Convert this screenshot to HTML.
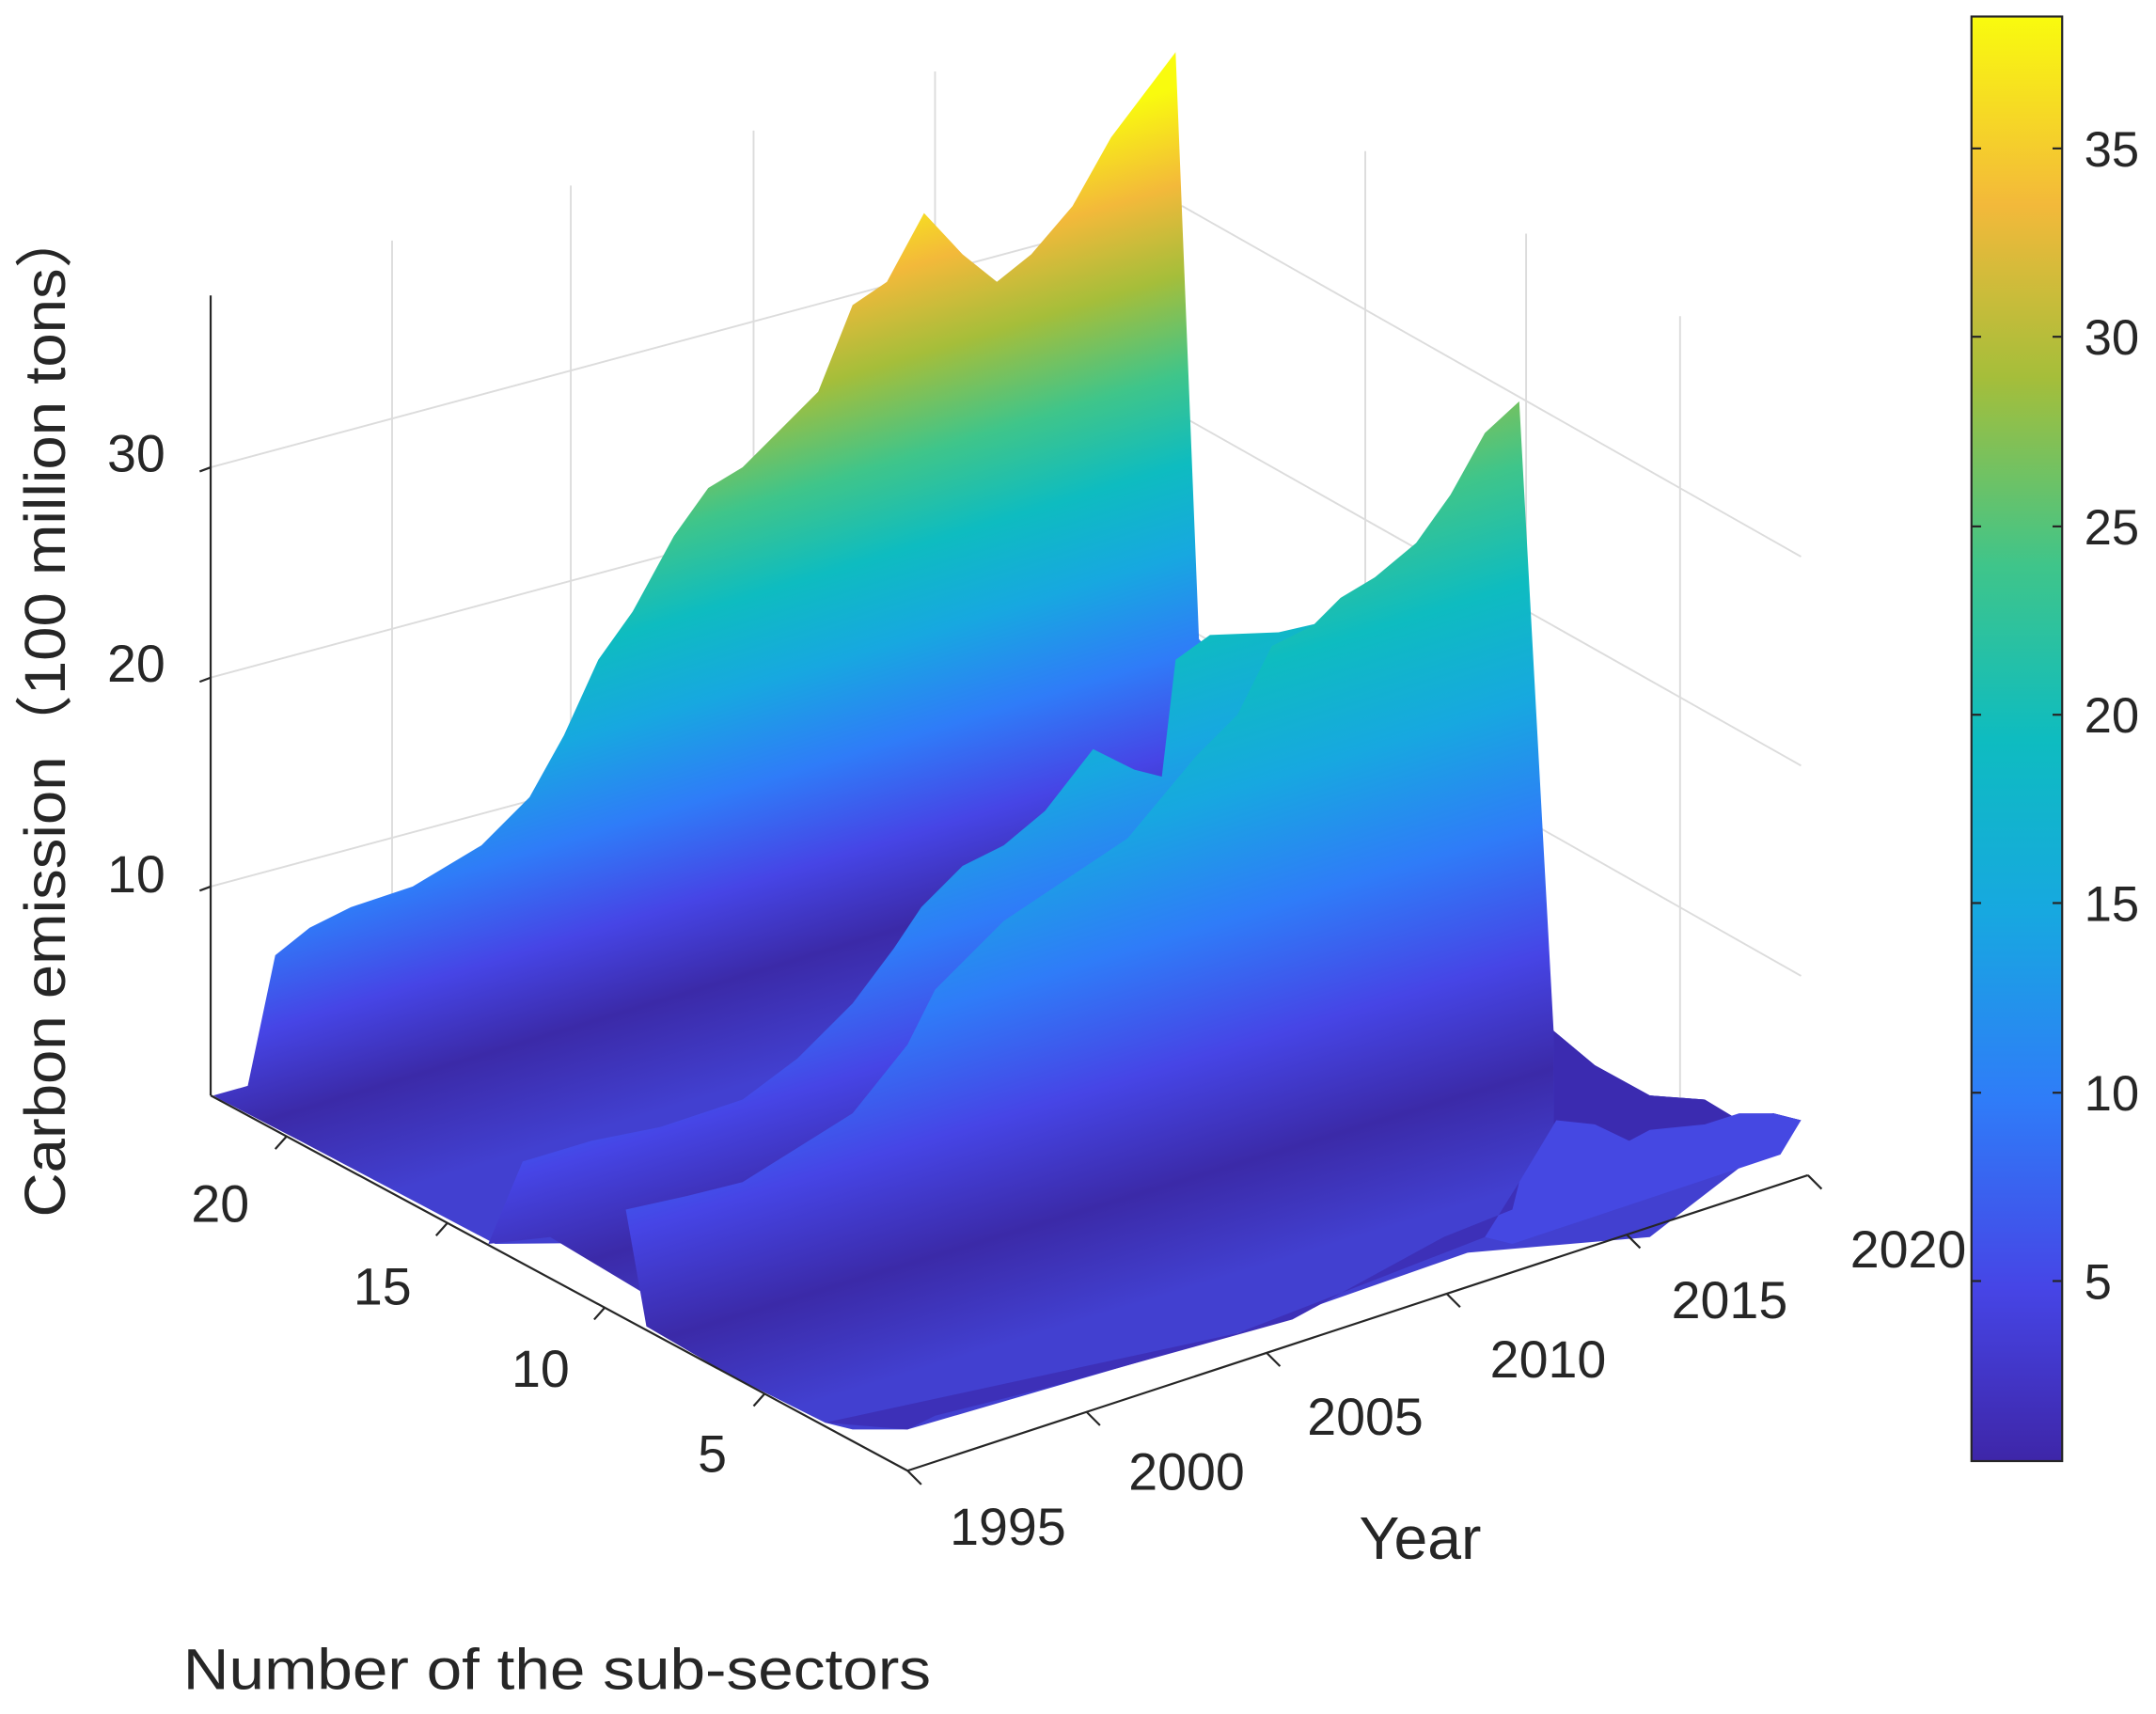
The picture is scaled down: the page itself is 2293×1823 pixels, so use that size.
<!DOCTYPE html>
<html><head><meta charset="utf-8"><style>
html,body{margin:0;padding:0;background:#fff;}
svg{display:block;}
text{font-family:"Liberation Sans","Noto Sans CJK SC",sans-serif;fill:#262626;}
</style></head><body>
<svg width="2293" height="1823" viewBox="0 0 1568 1247" xmlns="http://www.w3.org/2000/svg">
<defs>
<linearGradient id="cb" x1="0" y1="1" x2="0" y2="0">
<stop offset="0" stop-color="#3e26a8"/><stop offset="0.12" stop-color="#4645e6"/><stop offset="0.25" stop-color="#2f7cf8"/><stop offset="0.38" stop-color="#17a8e0"/><stop offset="0.5" stop-color="#0ebcc0"/><stop offset="0.62" stop-color="#3fc58a"/><stop offset="0.75" stop-color="#a5be3a"/><stop offset="0.87" stop-color="#f3b93a"/><stop offset="1" stop-color="#f9fb0e"/>
</linearGradient>
<linearGradient id="g1" gradientUnits="userSpaceOnUse" x1="0" y1="954" x2="0" y2="323" gradientTransform="skewY(-16.87)">
<stop offset="0" stop-color="#4240d0"/><stop offset="0.127" stop-color="#3b2aa8"/><stop offset="0.232" stop-color="#4645e6"/><stop offset="0.345" stop-color="#2f7cf8"/><stop offset="0.459" stop-color="#17a8e0"/><stop offset="0.563" stop-color="#0ebcc0"/><stop offset="0.668" stop-color="#3fc58a"/><stop offset="0.782" stop-color="#a5be3a"/><stop offset="0.887" stop-color="#f3b93a"/><stop offset="1" stop-color="#f9fb0e"/>
</linearGradient>
<linearGradient id="g2" gradientUnits="userSpaceOnUse" x1="0" y1="1127" x2="0" y2="401" gradientTransform="skewY(-16.87)">
<stop offset="0" stop-color="#4240d0"/><stop offset="0.11" stop-color="#3b2aa8"/><stop offset="0.217" stop-color="#4645e6"/><stop offset="0.332" stop-color="#2f7cf8"/><stop offset="0.448" stop-color="#17a8e0"/><stop offset="0.555" stop-color="#0ebcc0"/><stop offset="0.662" stop-color="#3fc58a"/><stop offset="0.778" stop-color="#a5be3a"/><stop offset="0.884" stop-color="#f3b93a"/><stop offset="1" stop-color="#f9fb0e"/>
</linearGradient>
<linearGradient id="g3" gradientUnits="userSpaceOnUse" x1="0" y1="1200" x2="0" y2="400" gradientTransform="skewY(-16.87)">
<stop offset="0" stop-color="#4240d0"/><stop offset="0.1" stop-color="#3b2aa8"/><stop offset="0.208" stop-color="#4645e6"/><stop offset="0.325" stop-color="#2f7cf8"/><stop offset="0.442" stop-color="#17a8e0"/><stop offset="0.55" stop-color="#0ebcc0"/><stop offset="0.658" stop-color="#3fc58a"/><stop offset="0.775" stop-color="#a5be3a"/><stop offset="0.883" stop-color="#f3b93a"/><stop offset="1" stop-color="#f9fb0e"/>
</linearGradient>
</defs>
<g stroke="#dcdcdc" stroke-width="1.3" fill="none">
<polyline points="153,340 860,150 1310,405"/>
<polyline points="153,493 860,303 1310,557"/>
<polyline points="153,645 860,455 1310,710"/>
<line x1="285" y1="175" x2="285" y2="760"/>
<line x1="415" y1="135" x2="415" y2="730"/>
<line x1="548" y1="95" x2="548" y2="690"/>
<line x1="680" y1="52" x2="680" y2="650"/>
<line x1="993" y1="110" x2="993" y2="700"/>
<line x1="1110" y1="170" x2="1110" y2="760"/>
<line x1="1222" y1="230" x2="1222" y2="820"/>
</g>
<polygon fill="url(#g1)" points="155,797 180,790 200,695 225,675 255,660 300,645 350,615 385,580 410,535 435,480 460,445 490,390 515,355 540,340 570,310 595,285 620,222 645,205 672,155 700,185 725,205 750,185 780,150 808,100 855,38 872,465 1130,750 1160,775 1200,797 1240,800 1250,830 900,900 360,905 218,830 160,800"/>
<polygon fill="url(#g2)" points="355,905 380,845 430,830 480,820 540,800 580,770 620,730 650,690 670,660 700,630 730,615 760,590 795,545 825,560 845,565 855,480 880,462 930,460 965,452 1000,440 1060,470 1130,750 1160,775 1200,797 1240,800 1265,815 1290,810 1310,815 1200,900 500,960 400,900"/>
<polygon fill="#3b2bb0" points="1130,750 1160,775 1200,797 1240,800 1265,815 1290,810 1310,815 1290,840 1130,895"/>
<polygon fill="url(#g3)" points="455,880 500,870 540,860 580,835 620,810 660,760 680,720 700,700 730,670 760,650 790,630 820,610 845,580 870,550 900,520 925,470 955,455 975,435 1000,420 1030,395 1055,360 1080,315 1105,292 1130,750 1130,870 1100,900 900,970 660,1040 620,1040 600,1035 530,1000 470,965"/>
<polygon fill="#4548e2" points="1105,860 1132,815 1160,818 1185,830 1200,822 1240,818 1265,810 1290,810 1310,815 1295,840 1100,905 1080,900"/>
<polygon fill="#3d30b8" points="600,1035 660,1040 680,1030 760,1010 850,985 940,960 1050,900 1100,880 1105,860 1080,900 900,970"/>
<g stroke="#262626" stroke-width="1.5" fill="none">
<line x1="153" y1="215" x2="153" y2="797"/>
<line x1="153" y1="797" x2="660" y2="1070"/>
<line x1="660" y1="1070" x2="1315" y2="855"/>
<line x1="153" y1="340" x2="145" y2="343"/><line x1="153" y1="493" x2="145" y2="496"/><line x1="153" y1="645" x2="145" y2="648"/>
<line x1="208" y1="827" x2="200" y2="836"/><line x1="325" y1="890" x2="317" y2="899"/><line x1="440" y1="951" x2="432" y2="960"/><line x1="556" y1="1014" x2="548" y2="1023"/>
<line x1="660" y1="1070" x2="670" y2="1080"/><line x1="790" y1="1027" x2="800" y2="1037"/><line x1="921" y1="984" x2="931" y2="994"/><line x1="1052" y1="941" x2="1062" y2="951"/><line x1="1183" y1="898" x2="1193" y2="908"/><line x1="1315" y1="855" x2="1325" y2="865"/>
</g>
<g font-size="38">
<text x="120" y="343" text-anchor="end">30</text>
<text x="120" y="496" text-anchor="end">20</text>
<text x="120" y="649" text-anchor="end">10</text>
<text x="160" y="889" text-anchor="middle">20</text>
<text x="278" y="949" text-anchor="middle">15</text>
<text x="393" y="1009" text-anchor="middle">10</text>
<text x="518" y="1071" text-anchor="middle">5</text>
<text x="733" y="1124" text-anchor="middle">1995</text>
<text x="863" y="1084" text-anchor="middle">2000</text>
<text x="993" y="1044" text-anchor="middle">2005</text>
<text x="1126" y="1002" text-anchor="middle">2010</text>
<text x="1258" y="959" text-anchor="middle">2015</text>
<text x="1388" y="922" text-anchor="middle">2020</text>
</g>
<text x="1033" y="1134" font-size="44" text-anchor="middle">Year</text>
<text x="133" y="1229" font-size="42" textLength="544" lengthAdjust="spacingAndGlyphs">Number of the sub-sectors</text>
<text transform="translate(47,518) rotate(-90)" font-size="42" text-anchor="middle" textLength="735" lengthAdjust="spacingAndGlyphs">Carbon emission（100 million tons）</text>
<rect x="1434" y="12" width="66" height="1051" fill="url(#cb)" stroke="#262626" stroke-width="1.5"/>
<g stroke="#262626" stroke-width="1.5">
<line x1="1434" y1="108" x2="1441" y2="108"/><line x1="1500" y1="108" x2="1493" y2="108"/>
<line x1="1434" y1="245" x2="1441" y2="245"/><line x1="1500" y1="245" x2="1493" y2="245"/>
<line x1="1434" y1="383" x2="1441" y2="383"/><line x1="1500" y1="383" x2="1493" y2="383"/>
<line x1="1434" y1="520" x2="1441" y2="520"/><line x1="1500" y1="520" x2="1493" y2="520"/>
<line x1="1434" y1="657" x2="1441" y2="657"/><line x1="1500" y1="657" x2="1493" y2="657"/>
<line x1="1434" y1="795" x2="1441" y2="795"/><line x1="1500" y1="795" x2="1493" y2="795"/>
<line x1="1434" y1="932" x2="1441" y2="932"/><line x1="1500" y1="932" x2="1493" y2="932"/>
</g>
<g font-size="36">
<text x="1516" y="121">35</text><text x="1516" y="258">30</text><text x="1516" y="396">25</text><text x="1516" y="533">20</text><text x="1516" y="670">15</text><text x="1516" y="808">10</text><text x="1516" y="945">5</text>
</g>
</svg>
</body></html>
